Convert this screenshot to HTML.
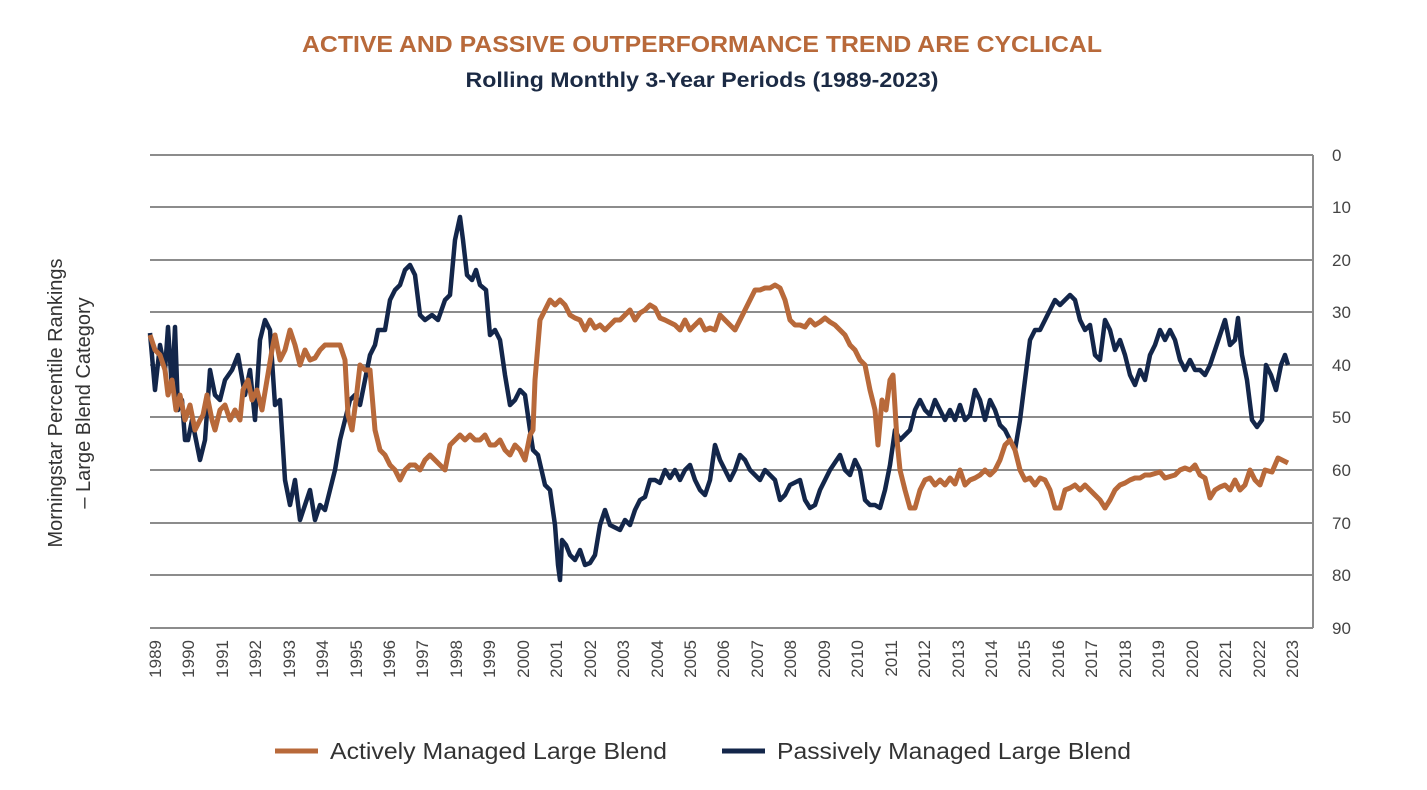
<!DOCTYPE html>
<html><head><meta charset="utf-8"><style>
body{margin:0;background:#fff;}
svg{display:block;font-family:"Liberation Sans",sans-serif;}
</style></head><body>
<svg width="1427" height="790" viewBox="0 0 1427 790" xmlns="http://www.w3.org/2000/svg">
<text x="702" y="52" text-anchor="middle" font-size="23" fill="#b8693a" font-weight="bold" textLength="800" lengthAdjust="spacingAndGlyphs">ACTIVE AND PASSIVE OUTPERFORMANCE TREND ARE CYCLICAL</text>
<text x="702" y="87" text-anchor="middle" font-size="21" fill="#1b2a44" font-weight="bold" textLength="473" lengthAdjust="spacingAndGlyphs">Rolling Monthly 3-Year Periods (1989-2023)</text>
<g stroke="#8c8c8c" stroke-width="2">
<line x1="150" y1="155" x2="1313" y2="155"/><line x1="150" y1="207" x2="1313" y2="207"/>
<line x1="150" y1="260" x2="1313" y2="260"/><line x1="150" y1="312" x2="1313" y2="312"/>
<line x1="150" y1="365" x2="1313" y2="365"/><line x1="150" y1="417" x2="1313" y2="417"/>
<line x1="150" y1="470" x2="1313" y2="470"/><line x1="150" y1="523" x2="1313" y2="523"/>
<line x1="150" y1="575" x2="1313" y2="575"/><line x1="150" y1="628" x2="1313" y2="628"/>
<line x1="1313" y1="155" x2="1313" y2="628"/>
</g>
<g font-size="17" fill="#444" text-anchor="start">
<text x="1332" y="161">0</text><text x="1332" y="213">10</text><text x="1332" y="266">20</text><text x="1332" y="318">30</text><text x="1332" y="371">40</text><text x="1332" y="423">50</text><text x="1332" y="476">60</text><text x="1332" y="529">70</text><text x="1332" y="581">80</text><text x="1332" y="634">90</text>
</g>
<text transform="translate(62,403) rotate(-90)" text-anchor="middle" font-size="20" fill="#333">Morningstar Percentile Rankings</text>
<text transform="translate(90,403) rotate(-90)" text-anchor="middle" font-size="20" fill="#333">– Large Blend Category</text>
<line x1="898" y1="417" x2="1018" y2="417" stroke="#13264a" stroke-width="1.5"/>
<polyline fill="none" stroke="#13264a" stroke-width="4.5" stroke-linejoin="round" points="150,333 155,390 160,345 165,370 168,327 172,390 175,327 178,410 182,400 185,440 188,440 192,420 196,440 200,460 205,440 210,370 215,395 220,400 225,380 232,370 238,355 245,395 250,370 255,420 260,340 265,320 270,330 275,405 280,400 285,480 290,505 295,480 300,520 305,505 310,490 315,520 320,505 325,510 330,490 335,470 340,440 345,420 350,400 355,395 360,405 365,380 370,355 375,345 378,330 385,330 390,300 395,290 400,285 405,270 410,265 415,275 420,315 425,320 432,315 438,320 445,300 450,295 455,240 460,217 463,240 467,275 472,280 476,270 480,285 486,290 490,335 495,330 500,340 505,375 510,405 515,400 520,390 525,395 530,430 533,450 538,455 545,485 550,490 555,525 558,565 560,580 562,540 566,545 570,555 575,560 580,550 585,565 590,563 595,555 600,525 605,510 610,525 620,530 625,520 630,525 635,510 640,500 645,497 650,480 655,480 660,483 665,470 670,478 675,470 680,480 685,470 690,465 695,480 700,490 705,495 710,480 715,445 720,460 725,470 730,480 735,470 740,455 745,460 750,470 755,475 760,480 765,470 770,475 775,480 780,500 785,495 790,485 800,480 805,500 810,508 815,505 820,490 825,480 830,470 840,455 845,470 850,475 855,460 860,470 865,500 870,505 875,505 880,508 885,490 890,465 895,430 900,440 905,435 910,430 915,410 920,400 925,410 930,415 935,400 940,410 945,420 950,410 955,420 960,405 965,420 970,415 975,390 980,400 985,420 990,400 995,410 1000,425 1005,430 1010,440 1015,450 1020,420 1025,380 1030,340 1035,330 1040,330 1045,320 1050,310 1055,300 1060,305 1065,300 1070,295 1075,300 1080,320 1085,330 1090,325 1095,355 1100,360 1105,320 1110,330 1115,350 1120,340 1125,355 1130,375 1135,385 1140,370 1145,380 1150,355 1155,345 1160,330 1165,340 1170,330 1175,340 1180,360 1185,370 1190,360 1195,370 1200,370 1205,375 1210,365 1215,350 1220,335 1225,320 1230,345 1235,340 1238,318 1242,355 1247,380 1252,420 1257,427 1262,420 1266,365 1271,375 1276,390 1281,365 1285,355 1288,365"/>
<polyline fill="none" stroke="#b8693a" stroke-width="5" stroke-linejoin="round" points="150,335 155,350 160,355 165,370 168,395 172,380 176,410 180,395 185,420 190,405 195,430 200,420 203,415 207,395 212,420 215,430 220,410 225,405 230,420 235,410 240,420 243,390 248,380 252,400 257,390 262,410 267,380 272,350 275,335 280,360 285,350 290,330 295,345 300,365 305,350 310,360 315,358 320,350 325,345 340,345 345,360 348,415 352,430 356,400 360,365 365,370 370,370 375,430 380,450 385,455 390,465 395,470 400,480 405,470 410,465 415,465 420,470 425,460 430,455 435,460 440,465 445,470 450,445 455,440 460,435 465,440 470,435 475,440 480,440 485,435 490,445 495,445 500,440 505,450 510,455 515,445 520,450 525,460 530,435 533,430 535,380 540,320 545,310 550,300 555,305 560,300 565,305 570,315 575,318 580,320 585,330 590,320 595,328 600,325 605,330 610,325 615,320 620,320 625,315 630,310 635,320 640,313 645,310 650,305 655,308 660,318 665,320 675,325 680,330 685,320 690,330 695,325 700,320 705,330 710,328 715,330 720,315 725,320 730,325 735,330 740,320 745,310 750,300 755,290 760,290 765,288 770,288 775,285 780,288 785,300 790,320 795,325 800,325 805,327 810,320 815,325 820,322 825,318 830,322 835,325 840,330 845,335 850,345 855,350 860,360 865,365 870,390 875,410 878,445 882,400 886,410 890,380 893,375 897,440 900,470 905,490 910,508 915,508 920,490 925,480 930,478 935,485 940,480 945,485 950,478 955,484 960,470 965,485 970,480 975,478 980,475 985,470 990,475 995,470 1000,460 1005,445 1010,440 1015,450 1020,470 1025,480 1030,478 1035,485 1040,478 1045,480 1050,490 1055,508 1060,508 1065,490 1070,488 1075,485 1080,490 1085,485 1090,490 1095,495 1100,500 1105,508 1110,500 1115,490 1120,485 1125,483 1130,480 1135,478 1140,478 1145,475 1150,475 1160,472 1165,478 1175,475 1180,470 1185,468 1190,470 1195,465 1200,475 1205,478 1210,498 1215,490 1220,487 1225,485 1230,490 1235,480 1240,490 1245,485 1250,470 1255,480 1260,485 1265,470 1272,472 1278,458 1282,460 1288,463"/>
<line x1="275" y1="751" x2="318" y2="751" stroke="#b8693a" stroke-width="5"/>
<text x="330" y="759" font-size="23" fill="#333" textLength="337" lengthAdjust="spacingAndGlyphs">Actively Managed Large Blend</text>
<line x1="722" y1="751" x2="765" y2="751" stroke="#13264a" stroke-width="5"/>
<text x="777" y="759" font-size="23" fill="#333" textLength="354" lengthAdjust="spacingAndGlyphs">Passively Managed Large Blend</text>
<g font-size="17" fill="#444">
<text transform="translate(161,640) rotate(-90)" text-anchor="end">1989</text>
<text transform="translate(194,640) rotate(-90)" text-anchor="end">1990</text>
<text transform="translate(228,640) rotate(-90)" text-anchor="end">1991</text>
<text transform="translate(261,640) rotate(-90)" text-anchor="end">1992</text>
<text transform="translate(295,640) rotate(-90)" text-anchor="end">1993</text>
<text transform="translate(328,640) rotate(-90)" text-anchor="end">1994</text>
<text transform="translate(362,640) rotate(-90)" text-anchor="end">1995</text>
<text transform="translate(395,640) rotate(-90)" text-anchor="end">1996</text>
<text transform="translate(428,640) rotate(-90)" text-anchor="end">1997</text>
<text transform="translate(462,640) rotate(-90)" text-anchor="end">1998</text>
<text transform="translate(495,640) rotate(-90)" text-anchor="end">1999</text>
<text transform="translate(529,640) rotate(-90)" text-anchor="end">2000</text>
<text transform="translate(562,640) rotate(-90)" text-anchor="end">2001</text>
<text transform="translate(596,640) rotate(-90)" text-anchor="end">2002</text>
<text transform="translate(629,640) rotate(-90)" text-anchor="end">2003</text>
<text transform="translate(663,640) rotate(-90)" text-anchor="end">2004</text>
<text transform="translate(696,640) rotate(-90)" text-anchor="end">2005</text>
<text transform="translate(729,640) rotate(-90)" text-anchor="end">2006</text>
<text transform="translate(763,640) rotate(-90)" text-anchor="end">2007</text>
<text transform="translate(796,640) rotate(-90)" text-anchor="end">2008</text>
<text transform="translate(830,640) rotate(-90)" text-anchor="end">2009</text>
<text transform="translate(863,640) rotate(-90)" text-anchor="end">2010</text>
<text transform="translate(897,640) rotate(-90)" text-anchor="end">2011</text>
<text transform="translate(930,640) rotate(-90)" text-anchor="end">2012</text>
<text transform="translate(964,640) rotate(-90)" text-anchor="end">2013</text>
<text transform="translate(997,640) rotate(-90)" text-anchor="end">2014</text>
<text transform="translate(1030,640) rotate(-90)" text-anchor="end">2015</text>
<text transform="translate(1064,640) rotate(-90)" text-anchor="end">2016</text>
<text transform="translate(1097,640) rotate(-90)" text-anchor="end">2017</text>
<text transform="translate(1131,640) rotate(-90)" text-anchor="end">2018</text>
<text transform="translate(1164,640) rotate(-90)" text-anchor="end">2019</text>
<text transform="translate(1198,640) rotate(-90)" text-anchor="end">2020</text>
<text transform="translate(1231,640) rotate(-90)" text-anchor="end">2021</text>
<text transform="translate(1265,640) rotate(-90)" text-anchor="end">2022</text>
<text transform="translate(1298,640) rotate(-90)" text-anchor="end">2023</text>
</g>
</svg>
</body></html>
